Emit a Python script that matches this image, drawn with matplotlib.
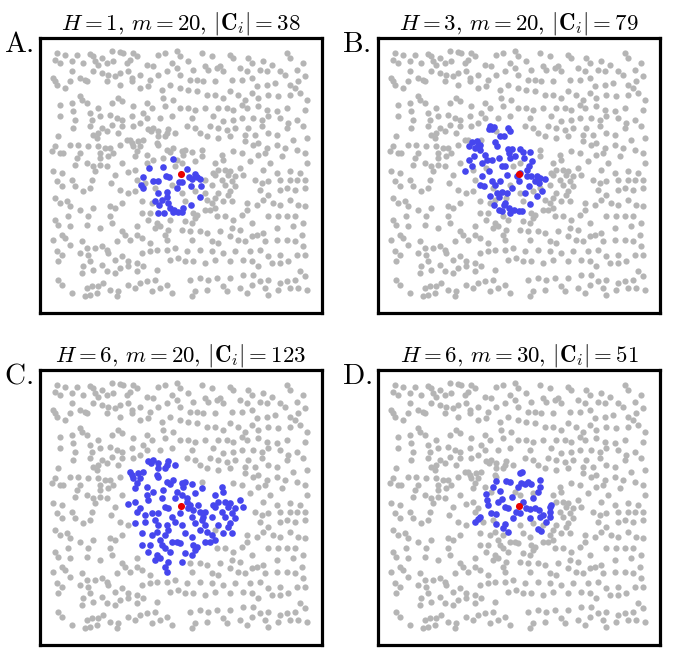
import numpy as np
import matplotlib
matplotlib.use("Agg")
import matplotlib.pyplot as plt

plt.rcParams['mathtext.fontset'] = 'cm'

# point positions (arbitrary units, seed point at 0,0)
# background points, one list per quadrant of the square
gray_nw = [(-372, 363), (-347, 358), (-312, 358), (-272, 360), (-262, 353), (-237, 348), (-207, 368),
           (-182, 366), (-172, 363), (-142, 363), (-132, 353), (-67, 358), (-47, 363), (-12, 368),
           (-2, 353), (-377, 343), (-362, 333), (-327, 338), (-292, 333), (-257, 338), (-247, 328),
           (-222, 333), (-202, 338), (-162, 333), (-152, 343), (-102, 328), (-82, 323), (-27, 333),
           (-12, 318), (-382, 288), (-377, 278), (-327, 308), (-302, 288), (-287, 283), (-262, 308),
           (-237, 303), (-217, 298), (-197, 293), (-182, 303), (-157, 308), (-147, 288), (-122, 298),
           (-92, 283), (-67, 298), (-42, 308), (-2, 298), (-372, 268), (-347, 258), (-332, 278),
           (-282, 278), (-222, 278), (-182, 268), (-147, 278), (-122, 258), (-97, 263), (-57, 253),
           (-32, 268), (-2, 258), (-362, 208), (-327, 213), (-302, 233), (-297, 223), (-282, 213),
           (-247, 198), (-207, 213), (-187, 228), (-177, 218), (-142, 203), (-102, 213), (-87, 198),
           (-52, 228), (-47, 203), (-22, 223), (-2, 198), (-362, 173), (-322, 188), (-317, 163),
           (-272, 183), (-267, 163), (-242, 173), (-212, 178), (-192, 168), (-177, 163), (-147, 173),
           (-112, 183), (-102, 168), (-62, 168), (-27, 173), (-322, 138), (-272, 143), (-237, 138),
           (-207, 148), (-177, 143), (-142, 143), (-122, 153), (-262, 118), (-247, 123), (-222, 128),
           (-367, 113), (-187, 123), (-377, 83), (-362, 63), (-332, 88), (-307, 88), (-277, 83),
           (-252, 108), (-247, 83), (-227, 78), (-212, 78), (-182, 88), (-162, 103), (-302, 63),
           (-387, 68), (-352, 63), (-312, 48), (-242, 63), (-242, 48), (-217, 53), (-202, 63),
           (-382, 8), (-317, 28), (-282, 33), (-262, 23), (-242, 28), (-222, 23), (-257, 8),
           (-357, 3), (-197, -2), (-177, 33)]
gray_ne = [(63, 363), (93, 353), (148, 358), (158, 348), (203, 348), (213, 333), (248, 338), (273, 328),
           (318, 363), (328, 348), (368, 333), (23, 338), (38, 313), (73, 323), (83, 313), (108, 318),
           (128, 308), (118, 323), (178, 318), (198, 308), (238, 313), (258, 308), (298, 308),
           (313, 298), (348, 313), (373, 293), (353, 278), (28, 283), (48, 283), (68, 278), (103, 278),
           (153, 283), (183, 283), (213, 288), (228, 263), (258, 268), (283, 273), (328, 268),
           (343, 258), (23, 253), (48, 248), (78, 238), (103, 238), (128, 228), (148, 248), (173, 238),
           (193, 223), (213, 243), (233, 228), (263, 238), (293, 233), (328, 238), (358, 243),
           (378, 223), (23, 198), (43, 193), (73, 198), (113, 198), (138, 198), (158, 193), (183, 208),
           (198, 198), (233, 203), (258, 193), (288, 188), (318, 198), (373, 193), (33, 168), (98, 173),
           (128, 158), (158, 163), (183, 168), (218, 168), (243, 163), (263, 173), (298, 168),
           (323, 153), (348, 163), (18, 143), (43, 138), (58, 123), (88, 143), (113, 138), (138, 133),
           (163, 138), (203, 138), (243, 143), (263, 123), (288, 118), (318, 138), (368, 143),
           (78, 113), (113, 108), (148, 113), (193, 118), (223, 118), (218, 88), (233, 93), (258, 78),
           (288, 88), (313, 78), (338, 103), (378, 108), (158, 68), (193, 98), (233, 58), (253, 63),
           (268, 33), (303, 53), (348, 73), (373, 63), (378, 33), (288, 3), (328, 8), (358, 3),
           (248, 13), (208, 38), (183, 63), (63, 73)]
gray_sw = [(-372, -22), (-357, -37), (-327, -17), (-317, -37), (-292, -52), (-272, -42), (-267, -17),
           (-210, -27), (-182, -47), (-157, -57), (-377, -72), (-362, -87), (-342, -82), (-332, -97),
           (-302, -107), (-262, -102), (-212, -97), (-197, -102), (-177, -87), (-337, -127),
           (-277, -127), (-377, -137), (-367, -152), (-332, -157), (-282, -152), (-242, -162),
           (-212, -127), (-207, -147), (-177, -172), (-132, -157), (-167, -182), (-132, -182),
           (-382, -197), (-357, -182), (-347, -192), (-332, -212), (-297, -202), (-282, -222),
           (-257, -222), (-237, -217), (-222, -227), (-192, -202), (-152, -197), (-117, -192),
           (-92, -207), (-372, -232), (-357, -242), (-367, -262), (-302, -237), (-277, -242),
           (-272, -262), (-217, -237), (-177, -247), (-197, -257), (-157, -262), (-132, -267),
           (-117, -237), (-92, -232), (-72, -227), (-42, -227), (-32, -257), (-7, -252), (-17, -222),
           (-292, -277), (-237, -272), (-222, -292), (-182, -282), (-157, -277), (-132, -292),
           (-112, -277), (-72, -287), (-297, -297), (-262, -287), (-197, -297), (-367, -317),
           (-357, -332), (-282, -342), (-267, -337), (-247, -337), (-232, -327), (-212, -347),
           (-187, -352), (-157, -332), (-137, -342), (-122, -327), (-102, -322), (-77, -317),
           (-62, -342), (-42, -332), (-87, -352), (-27, -357), (-327, -357), (-287, -367),
           (-272, -362), (-252, -357), (-192, -367)]
gray_se = [(223, -17), (243, -27), (263, -22), (298, -17), (328, -17), (348, -17), (373, -17),
           (238, -47), (263, -62), (298, -47), (318, -42), (343, -47), (373, -42), (198, -87),
           (228, -92), (248, -77), (278, -87), (298, -92), (328, -77), (353, -92), (373, -97),
           (103, -72), (108, -127), (133, -127), (158, -137), (183, -122), (198, -107), (213, -147),
           (263, -127), (293, -127), (318, -127), (343, -127), (368, -147), (28, -172), (58, -172),
           (78, -177), (118, -172), (153, -162), (178, -167), (228, -182), (248, -177), (288, -162),
           (338, -157), (363, -182), (33, -197), (93, -202), (113, -207), (148, -187), (173, -197),
           (193, -202), (213, -187), (253, -202), (288, -197), (318, -197), (343, -202), (368, -217),
           (18, -232), (58, -227), (93, -232), (128, -237), (163, -232), (208, -232), (238, -227),
           (263, -247), (298, -242), (348, -242), (373, -242), (13, -262), (38, -262), (73, -267),
           (103, -257), (148, -262), (188, -257), (213, -262), (233, -277), (273, -267), (298, -267),
           (323, -262), (358, -292), (28, -317), (58, -312), (83, -317), (108, -312), (148, -312),
           (188, -302), (218, -302), (238, -322), (263, -317), (298, -327), (318, -322), (343, -317),
           (373, -307), (43, -352), (78, -347), (128, -337), (138, -352), (178, -342), (213, -332),
           (253, -342), (293, -347), (328, -342), (353, -342), (378, -347), (33, -367), (263, -362),
           (198, -357)]

# cluster members of each panel
blue_a = [(-24, 45), (-95, 19), (-54, 22), (-112, -8), (-84, -21), (-69, -21), (-44, -5), (-34, -8),
          (18, 14), (26, -8), (48, -8), (58, -16), (-4, -23), (5, -23), (-119, -33), (-112, -41),
          (30, -36), (61, -36), (-69, -58), (-42, -53), (-57, -78), (-42, -68), (-64, -93), (-37, -86),
          (58, -68), (31, -93), (-49, -116), (-32, -103), (-19, -108), (-7, -113), (5, -113),
          (-67, -116), (-24, -113), (-12, -43), (43, 0), (33, -15), (-77, -80), (8, -103)]
blue_b = [(-90, 135), (-80, 135), (-85, 143), (-32, 138), (-55, 113), (-45, 115), (-140, 95), (-125, 98),
          (-115, 88), (-130, 78), (-70, 95), (-65, 83), (-32, 75), (-20, 75), (5, 75), (12, 65), (35, 65),
          (-135, 53), (-95, 43), (-25, 48), (-60, 48), (-140, 25), (-110, 33), (-50, 23), (-40, 25),
          (25, 13), (-160, 8), (-110, -7), (-80, -22), (-55, -22), (-35, -2), (0, -22), (25, -7), (38, -7),
          (55, -7), (80, -15), (60, -27), (30, -35), (-115, -32), (-105, -37), (-65, -57), (-50, -55),
          (-60, -69), (-40, -87), (55, -67), (35, -89), (-60, -107), (-50, -112), (-30, -102),
          (-15, -109), (0, -112), (10, -112), (30, 23), (5, 3), (-5, -7), (-85, -67), (-20, -42),
          (-45, -92), (-150, 83), (-115, 73), (-30, 63), (65, -12), (-75, 141), (-25, 128), (-122, 88),
          (-80, 43), (15, 48), (-10, 53), (-90, 8), (50, -22), (-70, -32), (-35, -57), (20, -57),
          (70, -52), (-75, -92), (-25, -117), (-100, 58), (40, 38), (-150, 43)]
blue_c = [(-97, 135), (-82, 138), (-89, 128), (-37, 135), (-42, 123), (-47, 113), (-67, 113), (-147, 93),
          (-142, 83), (-127, 98), (-122, 83), (-132, 68), (-72, 93), (-67, 88), (-42, 73), (-32, 65),
          (3, 68), (13, 73), (33, 65), (43, 38), (123, 58), (128, 43), (-137, 53), (-102, 33), (-97, 18),
          (-57, 23), (-157, 5), (-122, -7), (-47, -2), (-37, -5), (-17, 23), (18, 23), (23, -7),
          (38, -12), (58, -17), (73, -17), (68, -32), (98, 3), (103, -2), (133, 13), (148, 8),
          (143, -2), (178, 18), (188, -2), (163, -7), (153, -22), (133, -32), (-87, -22), (-67, -22),
          (-2, -22), (33, -32), (93, -32), (-137, -52), (-107, -47), (-67, -57), (-42, -57),
          (-37, -72), (148, -52), (143, -62), (128, -82), (153, -82), (58, -72), (78, -77), (93, -87),
          (33, -92), (103, -102), (-117, -82), (-47, -87), (-62, -102), (-27, -107), (-12, -107),
          (-2, -112), (-92, -117), (-117, -117), (-57, -117), (-47, -127), (38, -117), (48, -122),
          (43, -132), (13, -142), (-72, -147), (-62, -157), (-77, -162), (-47, -182), (-42, -197),
          (-12, 43), (18, 13), (28, 3), (63, -42), (88, -107), (-72, -77), (-152, 103), (-112, 103),
          (-22, 78), (8, 58), (-82, 43), (53, 3), (113, 13), (3, -57), (-77, -42), (-32, -137),
          (-97, -137), (73, -57), (33, -147), (3, 33), (-137, 13), (-107, -27), (123, -17), (-17, -47),
          (-52, 48), (-102, 58), (43, -52), (113, -57), (163, -37), (-27, -32), (13, -82), (73, -107),
          (-87, -87), (-132, -17), (-67, 128), (-17, 123), (63, 53), (103, 33), (3, -167), (-37, -167)]
blue_d = [(5, 98), (11, 101), (-67, 75), (-37, 75), (-27, 71), (8, 68), (18, 65), (38, 65), (63, 78),
          (65, 58), (58, 41), (-57, 45), (-19, 28), (-49, 20), (-97, 35), (-95, 18), (-42, -2), (-32, -5),
          (23, -7), (33, -9), (48, -5), (61, -12), (-7, -17), (3, -22), (98, 3), (95, -2), (-67, -25),
          (-82, -22), (-117, -32), (-122, -39), (-132, -47), (33, -37), (63, -32), (73, -27), (93, -32),
          (-67, -55), (-42, -55), (-47, -67), (-32, -77), (58, -69), (68, -75), (-2, 58), (28, 73),
          (-62, 13), (83, -47), (-17, -37), (-92, 3), (13, 13), (43, 23), (-77, 58), (93, -17)]

H_vals = [1, 3, 6, 6]
m_vals = [20, 20, 20, 30]
sizes = [38, 79, 123, 51]
letters = ['A.', 'B.', 'C.', 'D.']
clusters = [blue_a, blue_b, blue_c, blue_d]

gray_col = '#b5b5b5'
blue_col = '#4646ee'
red_col = '#e80000'

all_pts = np.array(gray_nw + gray_ne + gray_sw + gray_se + blue_c, dtype=float)

fig = plt.figure(figsize=(6.76, 6.53), dpi=100)
lefts = [40 / 676, 378 / 676, 40 / 676, 378 / 676]
bottoms = [1 - 313 / 653, 1 - 313 / 653, 1 - 645 / 653, 1 - 645 / 653]
label_xy = [(4, 44), (342, 44), (4, 376), (342, 376)]

for k in range(4):
    ax = fig.add_axes([lefts[k], bottoms[k], 282 / 676, 275 / 653])
    blue = np.array(clusters[k], dtype=float)
    # hide background points that sit under a cluster member
    d = np.sqrt(((all_pts[:, None, :] - blue[None, :, :]) ** 2).sum(axis=2))
    keep = d.min(axis=1) > 12
    bg = all_pts[keep]
    ax.scatter(bg[:, 0], bg[:, 1], s=20, c=gray_col, linewidths=0)
    ax.scatter(blue[:, 0], blue[:, 1], s=23, c=blue_col, linewidths=0)
    ax.scatter([0], [0], s=26, c=red_col, linewidths=0)
    ax.set_xlim(-422, 424)
    ax.set_ylim(-417, 408)
    ax.set_xticks([])
    ax.set_yticks([])
    for sp in ax.spines.values():
        sp.set_linewidth(2.3)
        sp.set_color('black')
    ax.set_title(r'$H=%d,\, m=%d,\, |\mathbf{C}_i|=%d$' % (H_vals[k], m_vals[k], sizes[k]),
                 fontsize=16.5, pad=6)
    fig.text(label_xy[k][0] / 676, 1 - label_xy[k][1] / 653, r'$\mathrm{%s}$' % letters[k],
             fontsize=21, ha='left', va='center')

fig.savefig('out.png', dpi=100)
